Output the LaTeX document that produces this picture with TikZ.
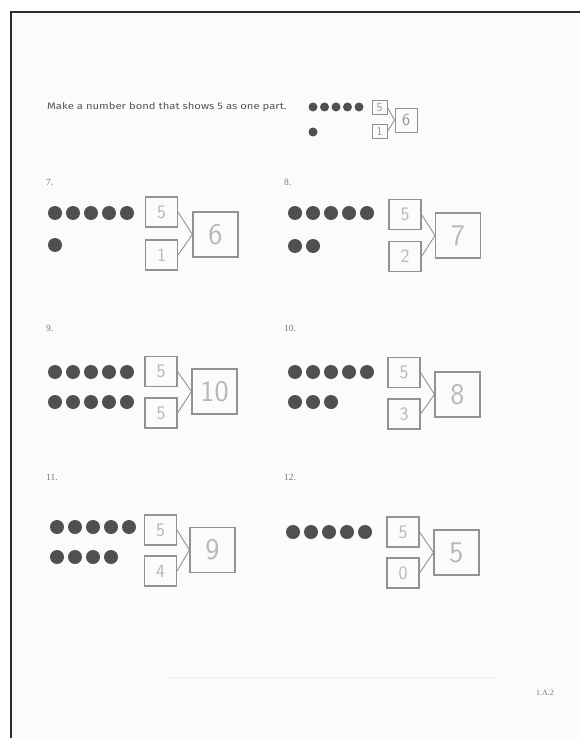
\documentclass[tikz,border=0pt]{standalone}
\usepackage{fontspec}
\setmainfont{Liberation Serif}
\newfontfamily\hdfont[FakeStretch=1.2]{Fira Sans}
\usetikzlibrary{positioning}
\definecolor{frame}{HTML}{2A2A2A}
\definecolor{paper}{HTML}{FBFBFB}
\definecolor{dotc}{HTML}{505050}
\definecolor{boxc}{HTML}{929292}
\definecolor{handc}{HTML}{B8B8B8}
\definecolor{txtc}{HTML}{555555}
\definecolor{labc}{HTML}{7A7A7A}
\tikzset{
  x=1pt, y=-1pt,
  dotbig/.style={circle, fill=dotc, minimum size=14pt, inner sep=0pt},
  dotsmall/.style={circle, fill=dotc, minimum size=9pt, inner sep=0pt},
  partbox/.style={draw=boxc, line width=1.1pt, minimum width=32pt, minimum height=30pt, inner sep=0pt, text=handc, font=\sffamily\fontsize{19}{19}\selectfont},
  wholebox/.style={draw=boxc, line width=1.1pt, minimum width=45pt, minimum height=45pt, inner sep=0pt, text=handc, font=\sffamily\fontsize{30}{30}\selectfont},
  hpart/.style={draw=boxc, line width=0.8pt, minimum width=15pt, minimum height=14pt, inner sep=0pt, text=dotc!60, font=\sffamily\fontsize{12}{12}\selectfont},
  hwhole/.style={draw=boxc, line width=0.8pt, minimum width=22pt, minimum height=24pt, inner sep=0pt, text=dotc!60, font=\sffamily\fontsize{17}{17}\selectfont},
  bondline/.style={draw=boxc, line width=0.9pt},
  numlab/.style={anchor=west, inner sep=0pt, text=labc, font=\fontsize{9.5}{10}\selectfont},
}
\begin{document}
\begin{tikzpicture}
\useasboundingbox (0,0) rectangle (580,738);
\fill[white] (0,0) rectangle (580,738);
\fill[paper] (11,12) rectangle (580,738);
\draw[frame, line width=2.8pt] (11,738) -- (11,12) -- (580,12);
% faint line near bottom
\draw[black!6, line width=0.8pt] (165,677) -- (500,677);

% header
\node[anchor=base west, inner sep=0pt, text=txtc, font=\hdfont\fontsize{9.4}{11}\selectfont] (hd) at (47,110) {Make a number bond that shows 5 as one part.};
\foreach \i in {0,...,4} { \node[dotsmall] (hdot\i) at (313+11.5*\i,107) {}; }
\node[dotsmall] (hdot5) at (313,132) {};
\node[hpart] (ha) at (379.5,107.5) {5};
\node[hpart] (hb) at (379.5,131.5) {1};
\node[hwhole] (hw) at (406,120) {6};
\draw[bondline] (ha.east) -- (hw.west);
\draw[bondline] (hb.east) -- (hw.west);

% 7
\node[numlab] (l7) at (46,182) {7.};
\foreach \i in {0,...,4} { \node[dotbig] (d7a\i) at (55+18*\i,213) {}; }
\node[dotbig] (d7b0) at (55,245) {};
\node[partbox] (p7a) at (161.5,212) {5};
\node[partbox] (p7b) at (161.5,255) {1};
\node[wholebox] (w7) at (215.5,234.5) {6};
\draw[bondline] (p7a.east) -- (w7.west);
\draw[bondline] (p7b.east) -- (w7.west);

% 8
\node[numlab] (l8) at (284,182) {8.};
\foreach \i in {0,...,4} { \node[dotbig] (d8a\i) at (295+18*\i,213) {}; }
\foreach \i in {0,1} { \node[dotbig] (d8b\i) at (295+18*\i,246) {}; }
\node[partbox] (p8a) at (405,214.5) {5};
\node[partbox] (p8b) at (405,256.5) {2};
\node[wholebox] (w8) at (458,235.5) {7};
\draw[bondline] (p8a.east) -- (w8.west);
\draw[bondline] (p8b.east) -- (w8.west);

% 9
\node[numlab] (l9) at (46,328) {9.};
\foreach \i in {0,...,4} { \node[dotbig] (d9a\i) at (55+18*\i,372) {}; }
\foreach \i in {0,...,4} { \node[dotbig] (d9b\i) at (55+18*\i,402) {}; }
\node[partbox] (p9a) at (161,371.5) {5};
\node[partbox] (p9b) at (161,413) {5};
\node[wholebox] (w9) at (214.5,391.5) {10};
\draw[bondline] (p9a.east) -- (w9.west);
\draw[bondline] (p9b.east) -- (w9.west);

% 10
\node[numlab] (l10) at (284,328) {10.};
\foreach \i in {0,...,4} { \node[dotbig] (d10a\i) at (295+18*\i,372) {}; }
\foreach \i in {0,...,2} { \node[dotbig] (d10b\i) at (295+18*\i,402) {}; }
\node[partbox] (p10a) at (404,372.5) {5};
\node[partbox] (p10b) at (404,414) {3};
\node[wholebox] (w10) at (457.5,394.5) {8};
\draw[bondline] (p10a.east) -- (w10.west);
\draw[bondline] (p10b.east) -- (w10.west);

% 11
\node[numlab] (l11) at (46,477) {11.};
\foreach \i in {0,...,4} { \node[dotbig] (d11a\i) at (57+18*\i,527) {}; }
\foreach \i in {0,...,3} { \node[dotbig] (d11b\i) at (57+18*\i,557) {}; }
\node[partbox] (p11a) at (160.5,530) {5};
\node[partbox] (p11b) at (160.5,571) {4};
\node[wholebox] (w11) at (212.5,550) {9};
\draw[bondline] (p11a.east) -- (w11.west);
\draw[bondline] (p11b.east) -- (w11.west);

% 12
\node[numlab] (l12) at (284,477) {12.};
\foreach \i in {0,...,4} { \node[dotbig] (d12a\i) at (293+18*\i,532) {}; }
\node[partbox] (p12a) at (403,532) {5};
\node[partbox] (p12b) at (403,573) {0};
\node[wholebox] (w12) at (456.5,552.5) {5};
\draw[bondline] (p12a.east) -- (w12.west);
\draw[bondline] (p12b.east) -- (w12.west);

% footer
\node[inner sep=0pt, text=labc, font=\fontsize{8}{9}\selectfont] (ft) at (545,693) {1.A.2};
\end{tikzpicture}
\end{document}
